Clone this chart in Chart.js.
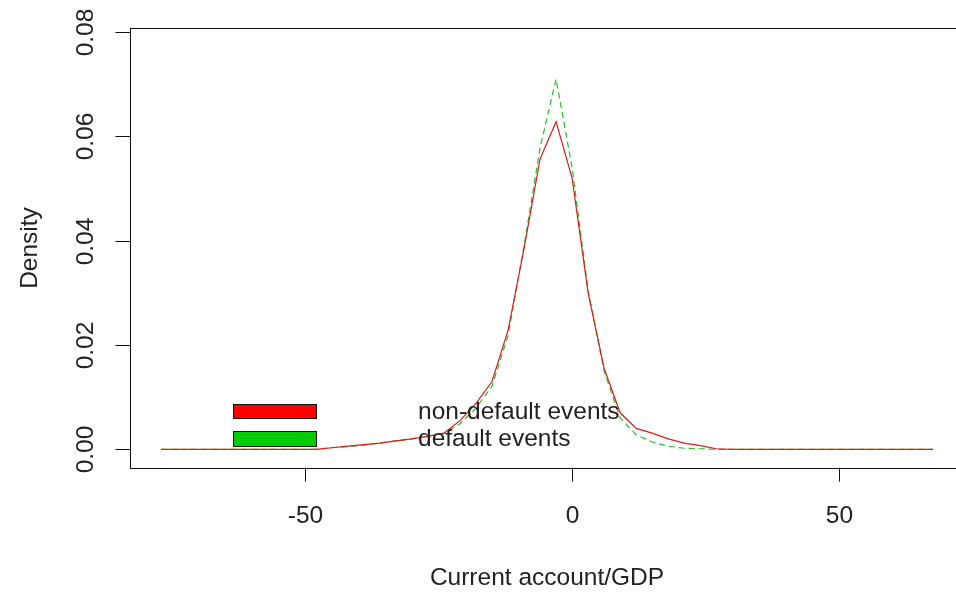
<!DOCTYPE html>
<html>
<head>
<meta charset="utf-8">
<script src="https://cdn.jsdelivr.net/npm/chart.js@4/dist/chart.umd.min.js"></script>
<style>
  html, body { margin: 0; padding: 0; background: #fff; }
  #wrap { width: 956px; height: 593px; }
</style>
</head>
<body>
<div id="wrap"><canvas id="chart" width="956" height="593"></canvas></div>
<script>
// ============= DATA =============
const gridX = [-77, -48, -45, -42, -39, -36, -33, -30, -27, -24, -21, -18, -15, -12, -9, -6, -3, 0, 3, 6, 9, 12, 15, 18, 21, 24, 27, 30, 67.6];
const nonDefault = [0, 0, 0.0003, 0.0006, 0.0009, 0.0012, 0.0016, 0.0020, 0.0025, 0.0031, 0.0055, 0.0088, 0.0130, 0.0228, 0.0385, 0.0557, 0.0628, 0.0520, 0.0300, 0.0155, 0.0070, 0.0040, 0.0031, 0.0020, 0.0012, 0.0007, 0.0001, 0, 0];
const defaultEv  = [0, 0, 0.0003, 0.0005, 0.0008, 0.0012, 0.0016, 0.0020, 0.0025, 0.0030, 0.0049, 0.0079, 0.0121, 0.0218, 0.0390, 0.0578, 0.0710, 0.0540, 0.0305, 0.0150, 0.0060, 0.0028, 0.0014, 0.0006, 0.0002, 0.0001, 0, 0, 0];

const xTicks = [-50, 0, 50];
const xTickLabels = ['-50', '0', '50'];
const yTicks = [0, 0.02, 0.04, 0.06, 0.08];
const yTickLabels = ['0.00', '0.02', '0.04', '0.06', '0.08'];

const legendLabels = ['non-default events', 'default events'];
const legendFill = ['#ff0000', '#00cd00'];

const FONT = '24.5px "Liberation Sans", Arial, sans-serif';

function toPoints(xs, ys) {
    return xs.map((x, i) => ({ x: x, y: ys[i] }));
}

// ============= R-STYLE AXES / BOX / LEGEND =============
const rFrame = {
    id: 'rFrame',
    afterDraw(chart) {
        const ctx = chart.ctx;
        const a = chart.chartArea;
        const xs = chart.scales.x;
        const ys = chart.scales.y;
        ctx.save();
        ctx.strokeStyle = '#111';
        ctx.lineWidth = 1;

        // box (right side runs off the canvas, as in the original)
        ctx.strokeRect(Math.round(a.left) + 0.5, Math.round(a.top) + 0.5, a.right - a.left + 5, Math.round(a.bottom - a.top));

        ctx.fillStyle = '#222';
        ctx.font = FONT;

        // x ticks
        ctx.textAlign = 'center';
        ctx.textBaseline = 'middle';
        xTicks.forEach((v, i) => {
            const px = Math.round(xs.getPixelForValue(v)) + 0.5;
            ctx.beginPath();
            ctx.moveTo(px, a.bottom);
            ctx.lineTo(px, a.bottom + 14);
            ctx.stroke();
            ctx.fillText(xTickLabels[i], px, 516);
        });

        // y ticks (labels rotated)
        yTicks.forEach((v, i) => {
            const py = Math.round(ys.getPixelForValue(v)) + 0.5;
            ctx.beginPath();
            ctx.moveTo(a.left - 14.5, py);
            ctx.lineTo(a.left, py);
            ctx.stroke();
            ctx.save();
            ctx.translate(86, py);
            ctx.rotate(-Math.PI / 2);
            ctx.fillText(yTickLabels[i], 0, 0);
            ctx.restore();
        });

        // axis titles, centred on the plot region like R does
        ctx.fillText('Current account/GDP', 547, 578);
        ctx.save();
        ctx.translate(30, 248);
        ctx.rotate(-Math.PI / 2);
        ctx.fillText('Density', 0, 0);
        ctx.restore();

        // legend
        const boxes = [[404, 418], [431, 446]];
        legendLabels.forEach((lab, i) => {
            ctx.fillStyle = legendFill[i];
            ctx.fillRect(233, boxes[i][0], 83, boxes[i][1] - boxes[i][0]);
            ctx.strokeStyle = '#111';
            ctx.strokeRect(233.5, boxes[i][0] + 0.5, 83, boxes[i][1] - boxes[i][0]);
            ctx.fillStyle = '#222';
            ctx.textAlign = 'left';
            ctx.fillText(lab, 418, (boxes[i][0] + boxes[i][1]) / 2 + 1);
        });
        ctx.restore();
    }
};

// ============= CHART =============
const ctx = document.getElementById('chart').getContext('2d');
const chart = new Chart(ctx, {
    type: 'scatter',
    data: {
        datasets: [
            {
                label: 'non-default events',
                data: toPoints(gridX, nonDefault),
                showLine: true,
                borderColor: '#dc1c1c',
                borderWidth: 1.2,
                pointRadius: 0,
                tension: 0
            },
            {
                label: 'default events',
                data: toPoints(gridX, defaultEv),
                showLine: true,
                borderColor: '#22c022',
                borderWidth: 1.2,
                borderDash: [6, 4],
                pointRadius: 0,
                tension: 0
            }
        ]
    },
    options: {
        responsive: false,
        animation: false,
        layout: { padding: { left: 130, top: 27.5, right: 0, bottom: 125.3 } },
        plugins: {
            legend: { display: false },
            tooltip: { enabled: false }
        },
        scales: {
            x: { type: 'linear', display: false, min: -82.8, max: 71.9 },
            y: { type: 'linear', display: false, min: -0.00353, max: 0.0809 }
        }
    },
    plugins: [rFrame]
});
</script>
</body>
</html>
